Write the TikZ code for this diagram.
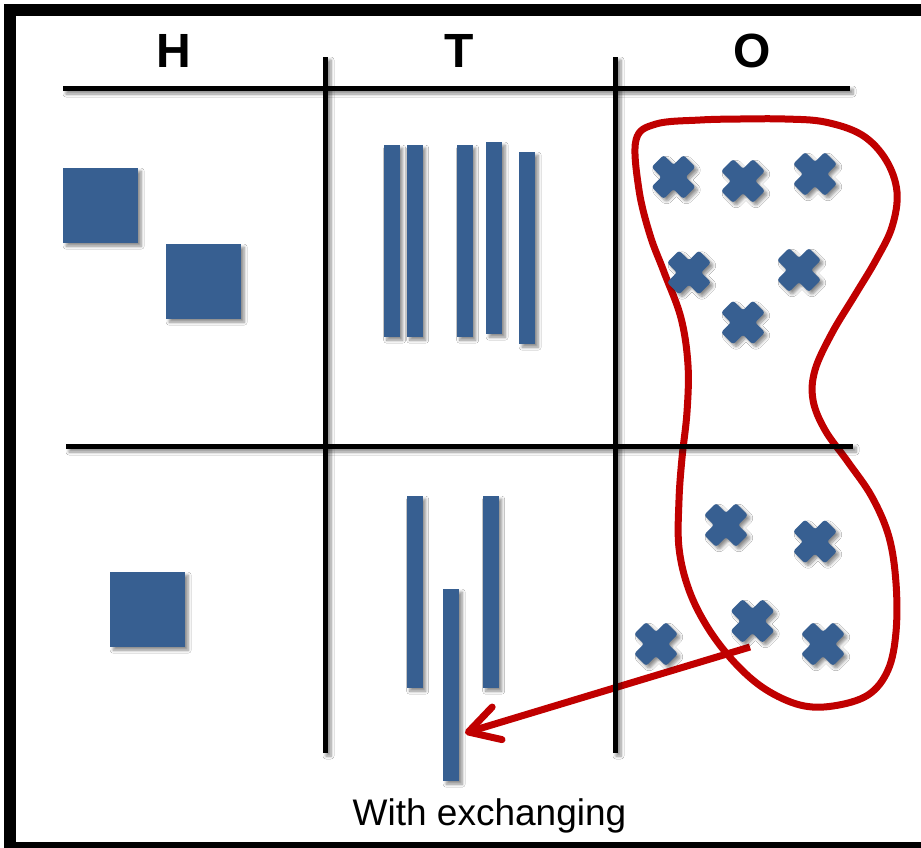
\documentclass[tikz,border=0pt]{standalone}
\usepackage{fontspec}
\setmainfont{Liberation Sans}
\usetikzlibrary{shadows.blur, arrows.meta}

\definecolor{tileblue}{RGB}{55,95,145}
\definecolor{loopred}{RGB}{192,0,0}

\tikzset{
  softshadow/.style={blur shadow={shadow xshift=3pt, shadow yshift=-3pt,
      shadow blur radius=3pt, shadow blur steps=6, shadow opacity=45}},
  rulebar/.style={fill=black, draw=none, softshadow},
  tile/.style={fill=tileblue, draw=none, softshadow, inner sep=0pt, anchor=north west},
  square/.style={tile, minimum width=75pt, minimum height=75pt},
  stick/.style={tile, minimum width=16pt},
  xshape/.style={fill=tileblue, draw=none, softshadow, rounded corners=2.5pt},
  head/.style={font=\fontsize{48}{48}\selectfont\bfseries, anchor=base, inner sep=0pt},
  caption/.style={font=\fontsize{37}{37}\selectfont, anchor=base, inner sep=0pt},
  loop/.style={draw=loopred, line width=7pt},
  move/.style={draw=loopred, line width=7pt,
      -{Straight Barb[length=30pt, width=34pt, round]}},
}

% an X-shaped marker centred at a named coordinate
\newcommand\xmarker[1]{%
  \path[xshape, shift={(#1)}, rotate=45]
    (8.5,8.5) -- (22.5,8.5) -- (22.5,-8.5) -- (8.5,-8.5) -- (8.5,-22.5) -- (-8.5,-22.5)
    -- (-8.5,-8.5) -- (-22.5,-8.5) -- (-22.5,8.5) -- (-8.5,8.5) -- (-8.5,22.5)
    -- (8.5,22.5) -- cycle;}

\begin{document}
\begin{tikzpicture}[x=1pt, y=-1pt]
  \useasboundingbox (0,0) rectangle (921,847);
  \fill[white] (0,0) rectangle (921,847);

  % outer frame (right side lies beyond the page)
  \draw[line width=12pt] (10,10) rectangle (945,848);

  % column headings
  \node[head] (hH) at (174,67) {H};
  \node[head] (hT) at (459,67) {T};
  \node[head] (hO) at (752,67) {O};

  % centres of the X markers
  \coordinate (x1) at (673.5,177);
  \coordinate (x2) at (743,181);
  \coordinate (x3) at (815,174);
  \coordinate (x4) at (689,272.5);
  \coordinate (x5) at (799,270);
  \coordinate (x6) at (743,322.5);
  \coordinate (x7) at (726,525);
  \coordinate (x8) at (815,541.5);
  \coordinate (x9) at (752.5,621);
  \coordinate (x10) at (823,644);
  \coordinate (x11) at (656,644);

  % loop around the O group
  \draw[loop] plot[smooth cycle, tension=0.6] coordinates {
    (636,140) (656,124) (700,120) (740,119) (785,119) (825,122) (862,135)
    (886,160) (897,192) (892,227) (876,260) (855,295) (832,333) (815,370)
    (813,400) (825,430) (848,462) (872,497) (889,537) (896,583) (896,632)
    (888,670) (868,695) (833,706) (800,705) (765,689) (735,663) (708,628)
    (689,590) (679,548) (679,500) (682,458) (687,412) (688,365) (681,318)
    (664,272) (650,235) (639,190)};

  % moved T stick
  \node[stick, minimum height=192pt] (m) at (443,589) {};
  \coordinate (from) at (750,647);
  \coordinate (to) at (465,733);
  \draw[move] (from) -- (to);

  % table rules
  \path[rulebar] (63,86) rectangle (850,91);
  \path[rulebar] (66,444) rectangle (853,449);
  \path[rulebar] (323,57) rectangle (328,753);
  \path[rulebar] (613,57) rectangle (618,753);

  % H squares
  \node[square] (s1) at (63,168) {};
  \node[square] (s2) at (166,244) {};
  \node[square] (s3) at (110,572) {};

  % T sticks, upper row
  \node[stick, minimum height=192pt] (t1) at (383.5,145) {};
  \node[stick, minimum height=192pt] (t2) at (406.5,145) {};
  \node[stick, minimum height=192pt] (t3) at (456.5,145) {};
  \node[stick, minimum height=192pt] (t4) at (486,142) {};
  \node[stick, minimum height=192pt] (t5) at (519,152) {};

  % T sticks, lower row
  \node[stick, minimum height=192pt] (b1) at (406.5,496) {};
  \node[stick, minimum height=192pt] (b2) at (482.5,496) {};

  % O markers
  \foreach \k in {1,...,11} {\xmarker{x\k}}

  \node[caption] (cap) at (489.5,825) {With exchanging};
\end{tikzpicture}
\end{document}
